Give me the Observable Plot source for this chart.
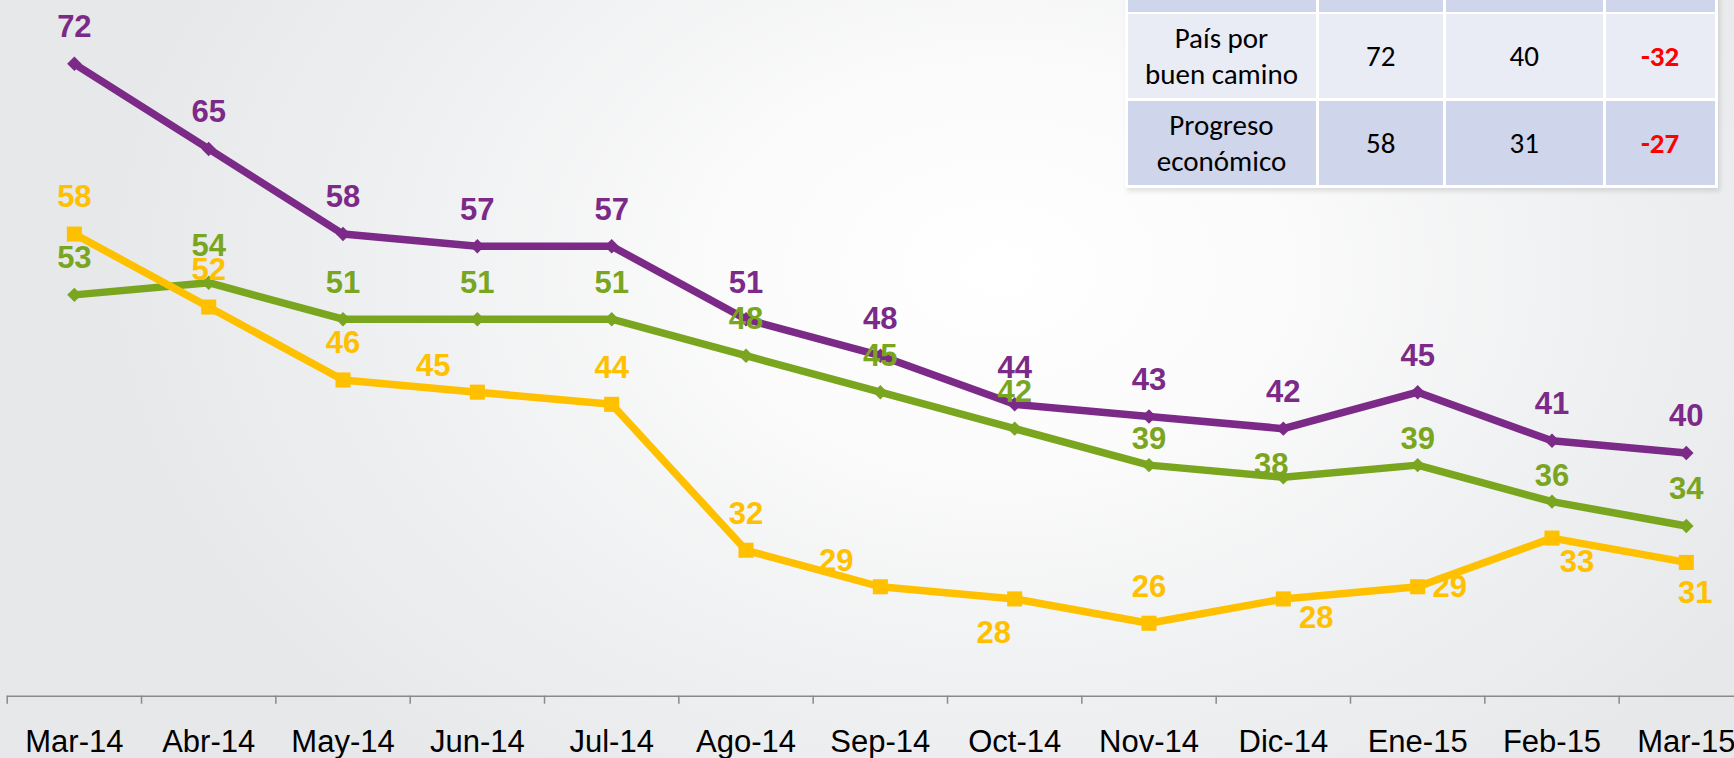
<!DOCTYPE html>
<html>
<head>
<meta charset="utf-8">
<script src="https://cdn.jsdelivr.net/npm/d3@7"></script>
<script src="https://cdn.jsdelivr.net/npm/@observablehq/plot@0.6"></script>
<style>
  html, body { margin: 0; padding: 0; }
  body {
    width: 1734px; height: 758px; overflow: hidden; position: relative;
    background: radial-gradient(ellipse 900px 640px at 1000px 270px, #ffffff 0%, #fbfbfb 30%, #f1f2f3 60%, #e7e8ea 100%);
  }
  #chart { position: absolute; left: 0; top: 0; }
  #tbl {
    position: absolute; left: 1124.5px; top: -40px;
    display: grid;
    grid-template-columns: 188px 124.5px 156.6px 109px;
    grid-template-rows: 48.7px 84px 84px;
    column-gap: 3px; row-gap: 2.6px;
    padding: 3px; background: #ffffff;
    box-shadow: 2px 3px 5px rgba(0,0,0,0.12);
    font-family: Carlito, Calibri, Lato, sans-serif; font-size: 29px; color: #000;
  }
  #tbl div { display: flex; align-items: center; justify-content: center; text-align: center; line-height: 36px; }
  #tbl .hd { background: #cfd5ea; }
  #tbl .r1 { background: #e9ebf5; }
  #tbl .r2 { background: #cfd5ea; }
  #tbl .neg { color: #ff0000; font-weight: bold; }
</style>
</head>
<body>
<div id="chart"></div>
<div id="tbl"></div>
<script>
// ---- data ----
const months = ["Mar-14","Abr-14","May-14","Jun-14","Jul-14","Ago-14","Sep-14","Oct-14","Nov-14","Dic-14","Ene-15","Feb-15","Mar-15"];
const purpleValues = [72, 65, 58, 57, 57, 51, 48, 44, 43, 42, 45, 41, 40];
const greenValues  = [53, 54, 51, 51, 51, 48, 45, 42, 39, 38, 39, 36, 34];
const yellowValues = [58, 52, 46, 45, 44, 32, 29, 28, 26, 28, 29, 33, 31];

const tableRowNames = ["País por<br>buen camino", "Progreso<br>económico"];
const tableStart = [72, 58];
const tableEnd = [40, 31];
const tableDiff = [-32, -27];

// ---- label placement (style) ----
const purplePlace = ["t","t","t","t","t","t","t","t","t","t","t","t","t"];
const greenPlace  = ["t","t","t","t","t","t","t","t","t2","l","t2","t2","t"];
const yellowPlace = ["t","t","t","tl","t","t","tl","bl","t","br","r","br2","b"];
const offsets = {
  t: [0, -36.5], t2: [0, -26], l: [-12, -12], tl: [-44, -26], bl: [-21, 34],
  br: [33, 19], r: [32, 0], br2: [25, 24], b: [9, 31]
};

const colors = { purple: "#7b2a87", green: "#7aa51f", yellow: "#ffc000" };

const rows = months.map((m, i) => ({i, month: m, purple: purpleValues[i], green: greenValues[i], yellow: yellowValues[i]}));

const yMin = 20, yMax = 72;
const W = 1734, H = 758;
const x0 = 6.7, step = 134.33;

function labelMarks(key, values, place) {
  const keys = [...new Set(place)];
  return keys.map(k => Plot.text(
    d3.range(values.length).filter(i => place[i] === k),
    {
      x: i => i, y: i => values[i], text: i => String(values[i]),
      dx: offsets[k][0], dy: offsets[k][1],
      fill: colors[key], fontWeight: "bold", fontSize: 31
    }
  ));
}

const series = [
  ["purple", purpleValues, purplePlace, "diamond2", 6.5],
  ["green", greenValues, greenPlace, "diamond2", 6.5],
  ["yellow", yellowValues, yellowPlace, "square", 8.5]
];

const marks = [
  Plot.ruleY([yMin], {stroke: "#8a8a8a", strokeWidth: 1.5}),
  Plot.axisX(d3.range(-0.5, months.length, 1), {tickSize: 8, fill: "none", stroke: "#8a8a8a", strokeWidth: 1.5, label: null}),
  Plot.axisX(d3.range(months.length), {tickSize: 0, tickPadding: 34, tickFormat: i => months[i], fontSize: 31, fill: "#000", label: null})
];
for (const [key, vals, place, sym, r] of series) {
  marks.push(Plot.line(rows, {x: "i", y: key, stroke: colors[key], strokeWidth: 7.5, strokeLinejoin: "miter"}));
  marks.push(Plot.dot(rows, {x: "i", y: key, symbol: sym, r, fill: colors[key], stroke: "none"}));
}
for (const [key, vals, place] of series) marks.push(...labelMarks(key, vals, place));

const plot = Plot.plot({
  width: W, height: H,
  marginLeft: x0, marginRight: 0, marginTop: 63.3, marginBottom: H - 695.7,
  style: {background: "transparent", fontFamily: "'Liberation Sans', Arial, sans-serif", fontSize: "31px", color: "#000", overflow: "visible"},
  x: {type: "linear", domain: [-0.5, months.length - 0.5], range: [x0, x0 + step * months.length], axis: null, label: null},
  y: {domain: [yMin, yMax], axis: null, label: null},
  marks
});
document.getElementById("chart").appendChild(plot);

// ---- table ----
const tbl = document.getElementById("tbl");
let html = '<div class="hd"></div><div class="hd"></div><div class="hd"></div><div class="hd"></div>';
tableRowNames.forEach((n, i) => {
  const c = i === 0 ? "r1" : "r2";
  html += `<div class="${c}">${n}</div><div class="${c}">${tableStart[i]}</div><div class="${c}">${tableEnd[i]}</div><div class="${c} neg">${tableDiff[i]}</div>`;
});
tbl.innerHTML = html;
</script>
</body>
</html>
